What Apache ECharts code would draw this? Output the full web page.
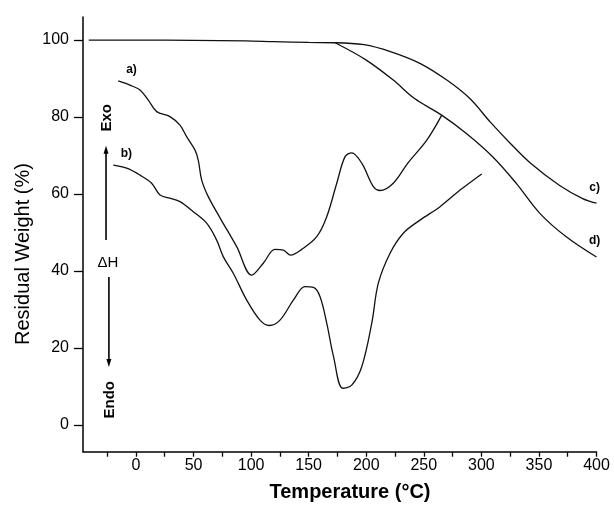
<!DOCTYPE html>
<html><head><meta charset="utf-8">
<script src="https://cdn.jsdelivr.net/npm/echarts@6/dist/echarts.min.js"></script>
<style>html,body{margin:0;padding:0;background:#fff}#c{width:614px;height:509px}</style>
</head><body><div id="c"></div>
<script>
// ---- data (temperature in °C, residual weight / DSC signal on % scale) ----
const flatT = [-41, 0, 50, 95, 120, 150, 173];
const flatW = [100, 100, 99.9, 99.8, 99.6, 99.4, 99.3];

const cT = [173, 198, 221, 247, 270, 290, 308, 325, 342, 368, 388, 400];
const cW = [99.3, 98.8, 97.0, 93.9, 89.6, 84.8, 78.6, 73.2, 68.2, 62.2, 58.8, 57.6];

const dT = [173, 200, 223.5, 242, 265.5, 287, 310, 330.5, 351, 374, 400];
const dW = [99.3, 94.8, 89.6, 84.8, 80.5, 75.7, 69.6, 62.7, 54.9, 48.8, 43.6];

const aT = [-15.4, -5.2, 3.5, 10.7, 18, 29.5, 38.2, 44, 51.3, 54.1, 57.1, 62.8, 73, 87.5, 100.5, 110.6, 120.7, 128, 134.4, 144, 157, 165.7, 174.4, 181.6, 187.4, 196.1, 206.2, 212, 223.5, 236.3, 252.6, 265.6];
const aY = [89.4, 88.3, 87.0, 84.4, 81.4, 80.1, 77.9, 74.9, 71.4, 68.8, 63.6, 59.3, 53.8, 46.3, 38.9, 42.0, 45.6, 45.4, 44.1, 45.6, 48.9, 54.1, 62.8, 69.7, 70.7, 68.0, 61.9, 60.9, 62.8, 68.1, 74.0, 80.5];

const bT = [-19.7, -8.1, 3.5, 13.6, 20.9, 29.5, 38.2, 49.8, 61.4, 70.1, 75.8, 84.5, 96.2, 107.7, 115.8, 125.1, 136.7, 146.8, 154.1, 159.9, 165.7, 171.6, 179.6, 187.4, 196.1, 204.8, 210.5, 220.7, 232.2, 246.7, 264.1, 281.5, 300.3];
const bY = [67.5, 66.7, 64.9, 62.8, 59.7, 58.9, 58.0, 55.4, 52.4, 48.0, 43.7, 39.4, 32.4, 27.2, 25.8, 27.2, 32.4, 35.9, 35.7, 33.3, 26.4, 17.7, 9.5, 10.3, 15.1, 26.4, 36.8, 44.6, 49.8, 53.2, 56.7, 61.0, 65.2];

const xLabelVals = [0, 50, 100, 150, 200, 250, 300, 350, 400];
const xTickVals = [-25, 0, 25, 50, 75, 100, 125, 150, 175, 200, 225, 250, 275, 300, 325, 350, 375, 400];
const yLabelVals = [0, 20, 40, 60, 80, 100];

const xTitle = 'Temperature (°C)';
const yTitle = 'Residual Weight (%)';
const curveLabels = ['a)', 'b)', 'c)', 'd)'];

// ---- chart ----
const FONT = '"Liberation Sans", Arial, Helvetica, sans-serif';
const chart = echarts.init(document.getElementById('c'), null, {renderer: 'canvas'});
const pairs = (xs, ys) => xs.map((x, i) => [x, ys[i]]);
const LS = {color: '#111', width: 1.3};
const mk = (name, xs, ys) => ({
  type: 'line', name, data: pairs(xs, ys), showSymbol: false, symbol: 'none',
  smooth: 0.35, lineStyle: LS, silent: true
});

chart.setOption({
  animation: false,
  backgroundColor: '#fff',
  grid: {left: 83, right: 17.5, top: 17, bottom: 57.3},
  xAxis: {
    type: 'value', min: -46, max: 400,
    axisLine: {show: true, onZero: false, lineStyle: {color: '#000', width: 1.5}},
    axisTick: {show: true, inside: false, length: 5, customValues: xTickVals, lineStyle: {color: '#000', width: 1.3}},
    axisLabel: {customValues: xLabelVals, margin: 6, fontSize: 16, color: '#000', fontFamily: FONT},
    splitLine: {show: false}
  },
  yAxis: {
    type: 'value', min: -7, max: 106,
    axisLine: {show: true, onZero: false, lineStyle: {color: '#000', width: 1.5}},
    axisTick: {show: true, inside: false, length: 9, customValues: yLabelVals, lineStyle: {color: '#000', width: 1.3}},
    axisLabel: {customValues: yLabelVals, margin: 14, fontSize: 16, color: '#000', fontFamily: FONT},
    splitLine: {show: false}
  },
  series: [
    mk('flat', flatT, flatW),
    mk('c', cT, cW),
    mk('d', dT, dW),
    mk('a', aT, aY),
    mk('b', bT, bY)
  ]
});

const P = (x, y) => chart.convertToPixel({gridIndex: 0}, [x, y]);
const txt = (pos, text, size, weight, rot) => ({
  type: 'text', x: pos[0], y: pos[1], rotation: rot || 0, silent: true,
  style: {text, fill: '#000', fontSize: size, fontWeight: weight, fontFamily: FONT, align: 'center', verticalAlign: 'middle'}
});
const arrow = (x, y1, y2, up) => {
  const p1 = P(x, y1), p2 = P(x, y2);
  const tip = up ? p2 : p2;
  const dir = up ? 1 : -1; // head base offset
  return [
    {type: 'line', silent: true, shape: {x1: p1[0], y1: p1[1], x2: p2[0], y2: p2[1] + dir * 4}, style: {stroke: '#000', lineWidth: 1.6}},
    {type: 'polygon', silent: true, shape: {points: [[tip[0], tip[1]], [tip[0] - 2.5, tip[1] + dir * 8], [tip[0] + 2.5, tip[1] + dir * 8]]}, style: {fill: '#000'}}
  ];
};

const g = [];
g.push(txt([350, 492], xTitle, 20, 'bold', 0));
g.push(txt([23, 254], yTitle, 20, 'normal', Math.PI / 2));
g.push(txt(P(-25.5, 79.8), 'Exo', 15, 'bold', Math.PI / 2));
g.push(txt(P(-24.3, 42), 'ΔH', 15, 'normal', 0));
g.push(txt(P(-22.6, 6.5), 'Endo', 15, 'bold', Math.PI / 2));
g.push(...arrow(-26, 48, 72.5, true));
g.push(...arrow(-23.5, 38.4, 15, false));
g.push(txt(P(-3.9, 92.2), curveLabels[0], 12, 'bold', 0));
g.push(txt(P(-8.3, 70.5), curveLabels[1], 12, 'bold', 0));
g.push(txt(P(398.3, 61.5), curveLabels[2], 12, 'bold', 0));
g.push(txt(P(398.3, 47.8), curveLabels[3], 12, 'bold', 0));
chart.setOption({graphic: g});
</script>
</body></html>
